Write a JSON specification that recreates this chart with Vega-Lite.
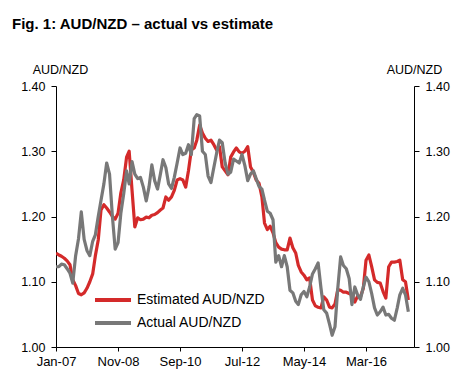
{
  "$schema": "https://vega.github.io/schema/vega-lite/v6.json",
  "width": 358,
  "height": 261,
  "autosize": {"type": "none"},
  "padding": {"left": 56, "top": 86, "right": 62, "bottom": 40},
  "background": "white",
  "config": {
    "font": "Liberation Sans",
    "view": {"stroke": null},
    "axis": {"domainColor": "#000", "tickColor": "#000", "labelColor": "#000", "titleColor": "#000", "grid": false, "labelFont": "Liberation Sans", "titleFont": "Liberation Sans", "labelFontSize": 12.5, "titleFontSize": 12.5, "titleFontWeight": "normal", "tickSize": 5, "domainWidth": 1, "tickWidth": 1}
  },
  "title": {"text": "Fig. 1: AUD/NZD – actual vs estimate", "anchor": "start", "frame": "group", "fontSize": 15, "fontWeight": "bold", "font": "Liberation Sans", "color": "#000", "dx": -44, "offset": 31},
  "data": {"values": [
    {"date":"2007-01-01","est":1.144,"act":1.123},
    {"date":"2007-02-01","est":1.141,"act":1.123},
    {"date":"2007-03-01","est":1.139,"act":1.127},
    {"date":"2007-04-01","est":1.136,"act":1.126},
    {"date":"2007-05-01","est":1.132,"act":1.120},
    {"date":"2007-06-01","est":1.126,"act":1.113},
    {"date":"2007-07-01","est":1.103,"act":1.098},
    {"date":"2007-08-01","est":1.094,"act":1.140},
    {"date":"2007-09-01","est":1.082,"act":1.166},
    {"date":"2007-10-01","est":1.080,"act":1.207},
    {"date":"2007-11-01","est":1.083,"act":1.165},
    {"date":"2007-12-01","est":1.090,"act":1.148},
    {"date":"2008-01-01","est":1.100,"act":1.140},
    {"date":"2008-02-01","est":1.112,"act":1.162},
    {"date":"2008-03-01","est":1.140,"act":1.172},
    {"date":"2008-04-01","est":1.164,"act":1.200},
    {"date":"2008-05-01","est":1.210,"act":1.225},
    {"date":"2008-06-01","est":1.218,"act":1.250},
    {"date":"2008-07-01","est":1.213,"act":1.282},
    {"date":"2008-08-01","est":1.207,"act":1.265},
    {"date":"2008-09-01","est":1.200,"act":1.200},
    {"date":"2008-10-01","est":1.196,"act":1.150},
    {"date":"2008-11-01","est":1.205,"act":1.160},
    {"date":"2008-12-01","est":1.236,"act":1.205},
    {"date":"2009-01-01","est":1.256,"act":1.235},
    {"date":"2009-02-01","est":1.291,"act":1.270},
    {"date":"2009-03-01","est":1.300,"act":1.250},
    {"date":"2009-04-01","est":1.240,"act":1.284},
    {"date":"2009-05-01","est":1.184,"act":1.265},
    {"date":"2009-06-01","est":1.198,"act":1.258},
    {"date":"2009-07-01","est":1.195,"act":1.260},
    {"date":"2009-08-01","est":1.196,"act":1.245},
    {"date":"2009-09-01","est":1.199,"act":1.224},
    {"date":"2009-10-01","est":1.198,"act":1.245},
    {"date":"2009-11-01","est":1.202,"act":1.279},
    {"date":"2009-12-01","est":1.203,"act":1.255},
    {"date":"2010-01-01","est":1.206,"act":1.242},
    {"date":"2010-02-01","est":1.210,"act":1.265},
    {"date":"2010-03-01","est":1.213,"act":1.287},
    {"date":"2010-04-01","est":1.230,"act":1.275},
    {"date":"2010-05-01","est":1.225,"act":1.250},
    {"date":"2010-06-01","est":1.230,"act":1.243},
    {"date":"2010-07-01","est":1.240,"act":1.260},
    {"date":"2010-08-01","est":1.256,"act":1.282},
    {"date":"2010-09-01","est":1.258,"act":1.305},
    {"date":"2010-10-01","est":1.256,"act":1.295},
    {"date":"2010-11-01","est":1.245,"act":1.297},
    {"date":"2010-12-01","est":1.270,"act":1.310},
    {"date":"2011-01-01","est":1.302,"act":1.295},
    {"date":"2011-02-01","est":1.305,"act":1.350},
    {"date":"2011-03-01","est":1.317,"act":1.356},
    {"date":"2011-04-01","est":1.340,"act":1.354},
    {"date":"2011-05-01","est":1.328,"act":1.300},
    {"date":"2011-06-01","est":1.320,"act":1.295},
    {"date":"2011-07-01","est":1.315,"act":1.262},
    {"date":"2011-08-01","est":1.317,"act":1.252},
    {"date":"2011-09-01","est":1.310,"act":1.275},
    {"date":"2011-10-01","est":1.302,"act":1.297},
    {"date":"2011-11-01","est":1.307,"act":1.317},
    {"date":"2011-12-01","est":1.276,"act":1.313},
    {"date":"2012-01-01","est":1.270,"act":1.282},
    {"date":"2012-02-01","est":1.264,"act":1.265},
    {"date":"2012-03-01","est":1.291,"act":1.268},
    {"date":"2012-04-01","est":1.299,"act":1.288},
    {"date":"2012-05-01","est":1.305,"act":1.285},
    {"date":"2012-06-01","est":1.299,"act":1.282},
    {"date":"2012-07-01","est":1.297,"act":1.295},
    {"date":"2012-08-01","est":1.300,"act":1.278},
    {"date":"2012-09-01","est":1.307,"act":1.255},
    {"date":"2012-10-01","est":1.276,"act":1.265},
    {"date":"2012-11-01","est":1.268,"act":1.270},
    {"date":"2012-12-01","est":1.256,"act":1.258},
    {"date":"2013-01-01","est":1.251,"act":1.246},
    {"date":"2013-02-01","est":1.230,"act":1.242},
    {"date":"2013-03-01","est":1.190,"act":1.225},
    {"date":"2013-04-01","est":1.180,"act":1.208},
    {"date":"2013-05-01","est":1.185,"act":1.205},
    {"date":"2013-06-01","est":1.175,"act":1.195},
    {"date":"2013-07-01","est":1.160,"act":1.130},
    {"date":"2013-08-01","est":1.153,"act":1.140},
    {"date":"2013-09-01","est":1.150,"act":1.123},
    {"date":"2013-10-01","est":1.149,"act":1.140},
    {"date":"2013-11-01","est":1.149,"act":1.123},
    {"date":"2013-12-01","est":1.167,"act":1.087},
    {"date":"2014-01-01","est":1.152,"act":1.083},
    {"date":"2014-02-01","est":1.144,"act":1.070},
    {"date":"2014-03-01","est":1.125,"act":1.065},
    {"date":"2014-04-01","est":1.115,"act":1.080},
    {"date":"2014-05-01","est":1.110,"act":1.085},
    {"date":"2014-06-01","est":1.103,"act":1.077},
    {"date":"2014-07-01","est":1.106,"act":1.092},
    {"date":"2014-08-01","est":1.072,"act":1.112},
    {"date":"2014-09-01","est":1.063,"act":1.120},
    {"date":"2014-10-01","est":1.061,"act":1.129},
    {"date":"2014-11-01","est":1.060,"act":1.090},
    {"date":"2014-12-01","est":1.077,"act":1.057},
    {"date":"2015-01-01","est":1.072,"act":1.052},
    {"date":"2015-02-01","est":1.061,"act":1.035},
    {"date":"2015-03-01","est":1.060,"act":1.018},
    {"date":"2015-04-01","est":1.066,"act":1.031},
    {"date":"2015-05-01","est":1.088,"act":1.090},
    {"date":"2015-06-01","est":1.087,"act":1.138},
    {"date":"2015-07-01","est":1.084,"act":1.125},
    {"date":"2015-08-01","est":1.084,"act":1.120},
    {"date":"2015-09-01","est":1.082,"act":1.105},
    {"date":"2015-10-01","est":1.080,"act":1.065},
    {"date":"2015-11-01","est":1.069,"act":1.092},
    {"date":"2015-12-01","est":1.078,"act":1.080},
    {"date":"2016-01-01","est":1.077,"act":1.073},
    {"date":"2016-02-01","est":1.090,"act":1.092},
    {"date":"2016-03-01","est":1.133,"act":1.107},
    {"date":"2016-04-01","est":1.141,"act":1.100},
    {"date":"2016-05-01","est":1.123,"act":1.082},
    {"date":"2016-06-01","est":1.103,"act":1.060},
    {"date":"2016-07-01","est":1.099,"act":1.049},
    {"date":"2016-08-01","est":1.098,"act":1.054},
    {"date":"2016-09-01","est":1.085,"act":1.061},
    {"date":"2016-10-01","est":1.075,"act":1.049},
    {"date":"2016-11-01","est":1.123,"act":1.050},
    {"date":"2016-12-01","est":1.130,"act":1.044},
    {"date":"2017-01-01","est":1.130,"act":1.041},
    {"date":"2017-02-01","est":1.131,"act":1.060},
    {"date":"2017-03-01","est":1.133,"act":1.080},
    {"date":"2017-04-01","est":1.103,"act":1.090},
    {"date":"2017-05-01","est":1.100,"act":1.080},
    {"date":"2017-06-01","est":1.072,"act":1.054}
  ]},
  "encoding": {
    "x": {
      "field": "date", "type": "temporal",
      "scale": {"type": "utc", "domain": [{"year":2007,"month":1,"date":1,"utc":true},{"year":2017,"month":8,"date":1,"utc":true}]},
      "axis": {"title": null, "format": "%b-%y", "labelFontSize": 13, "labelPadding": 4, "tickSize": 4, "labelFlush": false, "labelOverlap": false, "labelBound": false,
        "values": [{"year":2007,"month":1,"date":1,"utc":true},{"year":2008,"month":11,"date":1,"utc":true},{"year":2010,"month":9,"date":1,"utc":true},{"year":2012,"month":7,"date":1,"utc":true},{"year":2014,"month":5,"date":1,"utc":true},{"year":2016,"month":3,"date":1,"utc":true}]}
    }
  },
  "layer": [
    {
      "mark": {"type": "line", "strokeWidth": 3.2, "strokeJoin": "round", "clip": true},
      "encoding": {
        "y": {"field": "est", "type": "quantitative", "scale": {"domain": [1.0, 1.4], "nice": false, "zero": false},
          "axis": {"orient": "left", "values": [1.0, 1.1, 1.2, 1.3, 1.4], "format": ".2f", "title": "AUD/NZD", "titleAngle": 0, "titleAlign": "center", "titleBaseline": "alphabetic", "titleX": 4, "titleY": -13, "labelPadding": 6}},
        "color": {"datum": "Estimated AUD/NZD", "type": "nominal",
          "scale": {"domain": ["Estimated AUD/NZD", "Actual AUD/NZD"], "range": ["#d42a2a", "#787878"]},
          "legend": {"title": null, "orient": "none", "legendX": 46, "legendY": 203, "symbolType": "M-2,0H2", "symbolSize": 324, "symbolStrokeWidth": 4, "symbolFillColor": "transparent", "labelFontSize": 14, "labelFont": "Liberation Sans", "labelColor": "#000", "rowPadding": 4, "labelOffset": 13}}
      }
    },
    {
      "mark": {"type": "line", "strokeWidth": 3.2, "strokeJoin": "round", "clip": true},
      "encoding": {
        "y": {"field": "act", "type": "quantitative",
          "axis": {"orient": "right", "values": [1.0, 1.1, 1.2, 1.3, 1.4], "format": ".2f", "title": "AUD/NZD", "titleAngle": 0, "titleAlign": "center", "titleBaseline": "alphabetic", "titleX": 0, "titleY": -13, "labelPadding": 6}},
        "color": {"datum": "Actual AUD/NZD", "type": "nominal"}
      }
    }
  ],
  "resolve": {"axis": {"y": "independent"}}
}
